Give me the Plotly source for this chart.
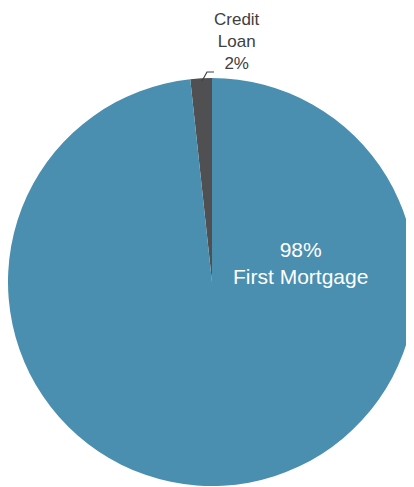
import plotly.graph_objects as go

labels = ["Credit Loan", "First Mortgage"]
values = [1.7, 98.3]
colors = ["#505052", "#4A8FB0"]

W, H = 414, 487
OFF = 8  # page body margin offset
cx, cy, r = 212 - OFF, 282 - OFF, 204  # pixel layout of the pie


def px(x):
    return (x - OFF) / W


def py(y):
    return 1 - (y - OFF) / H


fig = go.Figure(go.Pie(
    labels=labels,
    values=values,
    sort=False,
    direction="clockwise",
    rotation=-values[0] / sum(values) * 360,
    marker=dict(colors=colors, line=dict(width=0)),
    textinfo="none",
    hoverinfo="label+percent",
    domain=dict(x=[(cx - r) / W, (cx + r) / W],
                y=[(H - cy - r) / H, (H - cy + r) / H]),
    showlegend=False,
))

fig.add_annotation(
    x=px(237), y=py(41), xref="paper", yref="paper",
    text=f"Credit<br>Loan<br>{round(values[0])}%",
    showarrow=False, xanchor="center", yanchor="middle",
    font=dict(family="Liberation Sans, Arial, sans-serif", size=17, color="#404040"),
)
fig.add_annotation(
    x=px(300), y=py(263), xref="paper", yref="paper",
    text=f"{round(values[1])}%<br>{labels[1]}",
    showarrow=False, xanchor="center", yanchor="middle",
    font=dict(family="Liberation Sans, Arial, sans-serif", size=21, color="#FFFFFF"),
)
# leader line for the small slice
fig.add_shape(
    type="path", xref="paper", yref="paper",
    path=f"M {px(202)},{py(81)} L {px(207)},{py(72)} L {px(214)},{py(72)}",
    line=dict(color="#404040", width=1.2),
)

fig.update_layout(
    width=W, height=H,
    margin=dict(l=0, r=0, t=0, b=0),
    paper_bgcolor="white",
    plot_bgcolor="white",
)

fig.write_html("out.html")
